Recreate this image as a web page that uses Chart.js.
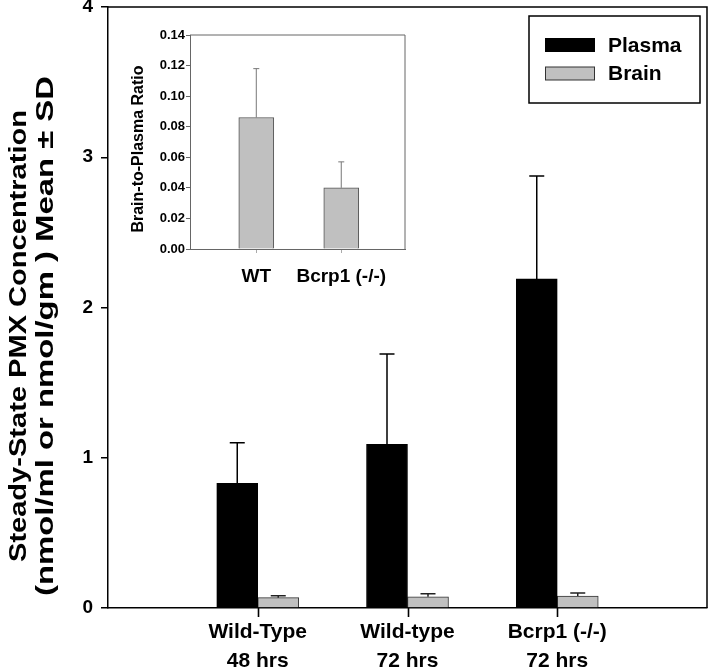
<!DOCTYPE html>
<html><head><meta charset="utf-8">
<script src="https://cdn.jsdelivr.net/npm/chart.js@4.4.1/dist/chart.umd.min.js"></script>
<style>
html,body{margin:0;padding:0;background:#fff;}
#wrap{position:relative;width:709px;height:670px;overflow:hidden;}
#main{position:absolute;left:0;top:0;}
#inset{position:absolute;left:115px;top:25px;}
</style></head>
<body><div id="wrap"><canvas id="main" width="709" height="670"></canvas><canvas id="inset" width="295" height="265"></canvas></div>
<script>
// ---- data ----
const categories = ['', ['Wild-Type', '48 hrs'], ['Wild-type', '72 hrs'], ['Bcrp1 (-/-)', '72 hrs'], ''];
const seriesNames = ['Plasma', 'Brain'];
const plasmaMean = [null, 0.83, 1.09, 2.19, null];
const plasmaSD   = [null, 0.27, 0.60, 0.685, null];
const brainMean  = [null, 0.069, 0.075, 0.080, null];
const brainSD    = [null, 0.013, 0.020, 0.020, null];
const yTicks = [0, 1, 2, 3, 4];
const yTitle = ['Steady-State PMX Concentration', '(nmol/ml or nmol/gm ) Mean \u00b1 SD'];

const insetLabels = ['WT', 'Bcrp1 (-/-)'];
const insetPos = [1, 2];
const ratioMean = [0.086, 0.040];
const ratioSD   = [0.032, 0.017];
const insetYTicks = [0, 0.02, 0.04, 0.06, 0.08, 0.10, 0.12, 0.14];
const insetTitle = ['Brain-to-Plasma Ratio'];

const FONT = "'Liberation Sans', Arial, Helvetica, sans-serif";
Chart.defaults.font.family = FONT;

// ---- plugins ----
const errorBars = {
  id: 'errorBars',
  afterDatasetsDraw(chart) {
    const ctx = chart.ctx;
    const yScale = chart.scales.y;
    chart.data.datasets.forEach((ds, di) => {
      if (!ds.sd) return;
      const meta = chart.getDatasetMeta(di);
      meta.data.forEach((bar, i) => {
        const m = ds.rawMean[i], s = ds.sd[i];
        if (m == null || s == null) return;
        const yTop = yScale.getPixelForValue(m + s);
        ctx.save();
        ctx.strokeStyle = ds.errColor;
        ctx.lineWidth = ds.errWidth;
        ctx.beginPath();
        ctx.moveTo(bar.x, bar.y);
        ctx.lineTo(bar.x, yTop);
        ctx.moveTo(bar.x - ds.capW / 2, yTop);
        ctx.lineTo(bar.x + ds.capW / 2, yTop);
        ctx.stroke();
        ctx.restore();
      });
    });
  }
};

const frame = {
  id: 'frame',
  afterDraw(chart, args, opts) {
    const a = chart.chartArea, ctx = chart.ctx;
    ctx.save();
    ctx.strokeStyle = opts.color;
    ctx.lineWidth = opts.width;
    ctx.beginPath();
    ctx.moveTo(a.left, a.top);
    ctx.lineTo(a.right, a.top);
    ctx.lineTo(a.right, a.bottom);
    ctx.stroke();
    ctx.restore();
    // category tick marks below the x axis (only for labelled categories)
    if (opts.xTicks) {
      const xs = chart.scales.x;
      const labels = chart.data.labels || [];
      ctx.save();
      ctx.strokeStyle = '#000000';
      ctx.lineWidth = 1.6;
      labels.forEach((lab, i) => {
        if (!lab || lab.length === 0) return;
        const px = Math.round(xs.getPixelForValue(i)) + 0.5;
        ctx.beginPath();
        ctx.moveTo(px, a.bottom);
        ctx.lineTo(px, a.bottom + 9);
        ctx.stroke();
      });
      ctx.restore();
    }
  }
};

const boxLegend = {
  id: 'boxLegend',
  afterDraw(chart, args, opts) {
    if (!opts.show) return;
    const ctx = chart.ctx;
    ctx.save();
    ctx.strokeStyle = '#000';
    ctx.lineWidth = 1.5;
    ctx.strokeRect(529, 16, 171, 87);
    const ds = chart.data.datasets;
    const rows = [45, 73.5];
    ds.forEach((d, i) => {
      const y = rows[i];
      ctx.fillStyle = d.backgroundColor;
      ctx.fillRect(545, y - 6.5, 50, 13);
      ctx.strokeStyle = d.borderColor;
      ctx.lineWidth = 1;
      ctx.strokeRect(545.5, y - 6.5, 49, 13);
      ctx.fillStyle = '#000';
      ctx.font = 'bold 21px ' + FONT;
      ctx.textBaseline = 'middle';
      ctx.textAlign = 'left';
      ctx.fillText(d.label, 608, y + 1);
    });
    ctx.restore();
  }
};

// rotated y-axis title (optionally stretched along its reading direction, as in the reference)
const rotTitle = {
  id: 'rotTitle',
  afterDraw(chart, args, opts) {
    if (!opts.lines) return;
    const ctx = chart.ctx;
    ctx.save();
    ctx.font = 'bold ' + opts.size + 'px ' + FONT;
    ctx.fillStyle = '#000';
    ctx.textAlign = 'center';
    ctx.textBaseline = 'middle';
    opts.lines.forEach((t, i) => {
      const w = ctx.measureText(t).width;
      ctx.save();
      ctx.translate(opts.x[i], opts.cy);
      ctx.rotate(-Math.PI / 2);
      if (opts.len) ctx.scale(opts.len[i] / w, 1);
      ctx.fillText(t, 0, 0);
      ctx.restore();
    });
    ctx.restore();
  }
};

// ---- main chart ----
new Chart(document.getElementById('main'), {
  type: 'bar',
  data: {
    labels: categories,
    datasets: [
      { label: seriesNames[0], data: plasmaMean, rawMean: plasmaMean, sd: plasmaSD,
        backgroundColor: '#000000', borderColor: '#000000', borderWidth: 1,
        errColor: '#000', errWidth: 1.5, capW: 15, barThickness: 41 },
      { label: seriesNames[1], data: brainMean, rawMean: brainMean, sd: brainSD,
        backgroundColor: '#c0c0c0', borderColor: '#333333', borderWidth: 1,
        errColor: '#222', errWidth: 1.5, capW: 15, barThickness: 41 }
    ]
  },
  options: {
    responsive: false, animation: false, devicePixelRatio: 1,
    layout: { padding: { top: 7, right: 2, left: 0, bottom: 0 } },
    plugins: { legend: { display: false }, tooltip: { enabled: false },
      frame: { color: '#000', width: 1.5, xTicks: true },
      boxLegend: { show: true },
      rotTitle: { lines: yTitle, size: 23, x: [19.5, 46.5], cy: 336, len: [452, 520] } },
    scales: {
      x: {
        type: 'category', offset: false,
        grid: { offset: false, drawOnChartArea: false, tickLength: 9, lineWidth: 1.5,
          color: 'rgba(0,0,0,0)' },
        border: { color: '#000', width: 1.5 },
        ticks: { autoSkip: false, maxRotation: 0, minRotation: 0, color: '#000', padding: 1,
          font: { size: 21, weight: 'bold', lineHeight: 1.38 } },
        afterFit: s => { s.height = 62; s.paddingLeft = 0; s.paddingRight = 0; }
      },
      y: {
        min: 0, max: 4,
        afterBuildTicks: s => { s.ticks = yTicks.map(v => ({ value: v })); },
        grid: { drawOnChartArea: false, tickLength: 7, lineWidth: 1.5, color: '#000' },
        border: { color: '#000', width: 1.5 },
        ticks: { color: '#000', padding: 8, font: { size: 19, weight: 'bold' } },
        afterFit: s => { s.width = 108; s.paddingTop = 0; s.paddingBottom = 0; }
      }
    }
  },
  plugins: [errorBars, frame, boxLegend, rotTitle]
});

// ---- inset chart ----
new Chart(document.getElementById('inset'), {
  type: 'bar',
  data: {
    datasets: [
      { label: insetTitle[0], data: insetPos.map((x, i) => ({ x: x, y: ratioMean[i] })),
        rawMean: ratioMean, sd: ratioSD,
        backgroundColor: '#c0c0c0', borderColor: '#555555', borderWidth: 1,
        errColor: '#777', errWidth: 1, capW: 6, barThickness: 35 }
    ]
  },
  options: {
    responsive: false, animation: false, devicePixelRatio: 1,
    layout: { padding: { top: 10, right: 5, left: 0, bottom: 0 } },
    plugins: { legend: { display: false }, tooltip: { enabled: false },
      frame: { color: '#666', width: 1, xTicks: false }, boxLegend: { show: false },
      rotTitle: { lines: insetTitle, size: 16, x: [24], cy: 124 } },
    scales: {
      x: {
        type: 'linear', min: 0.22, max: 2.75, offset: false,
        afterBuildTicks: s => { s.ticks = insetPos.map(v => ({ value: v })); },
        grid: { offset: false, drawOnChartArea: false, tickLength: 4, color: '#aaa', lineWidth: 1 },
        border: { color: '#666', width: 1 },
        ticks: { color: '#000', padding: 12, font: { size: 19, weight: 'bold' },
          callback: v => insetLabels[insetPos.indexOf(Math.round(v))] },
        afterFit: s => { s.height = 41; s.paddingLeft = 0; s.paddingRight = 0; }
      },
      y: {
        min: 0, max: 0.14,
        afterBuildTicks: s => { s.ticks = insetYTicks.map(v => ({ value: v })); },
        grid: { drawOnChartArea: false, tickLength: 4, color: '#666', lineWidth: 1 },
        border: { color: '#666', width: 1 },
        ticks: { color: '#000', padding: 1, font: { size: 13, weight: 'bold' },
          callback: v => Number(v).toFixed(2) },
        afterFit: s => { s.width = 75; }
      }
    }
  },
  plugins: [errorBars, frame, boxLegend, rotTitle]
});
</script>
</body></html>
